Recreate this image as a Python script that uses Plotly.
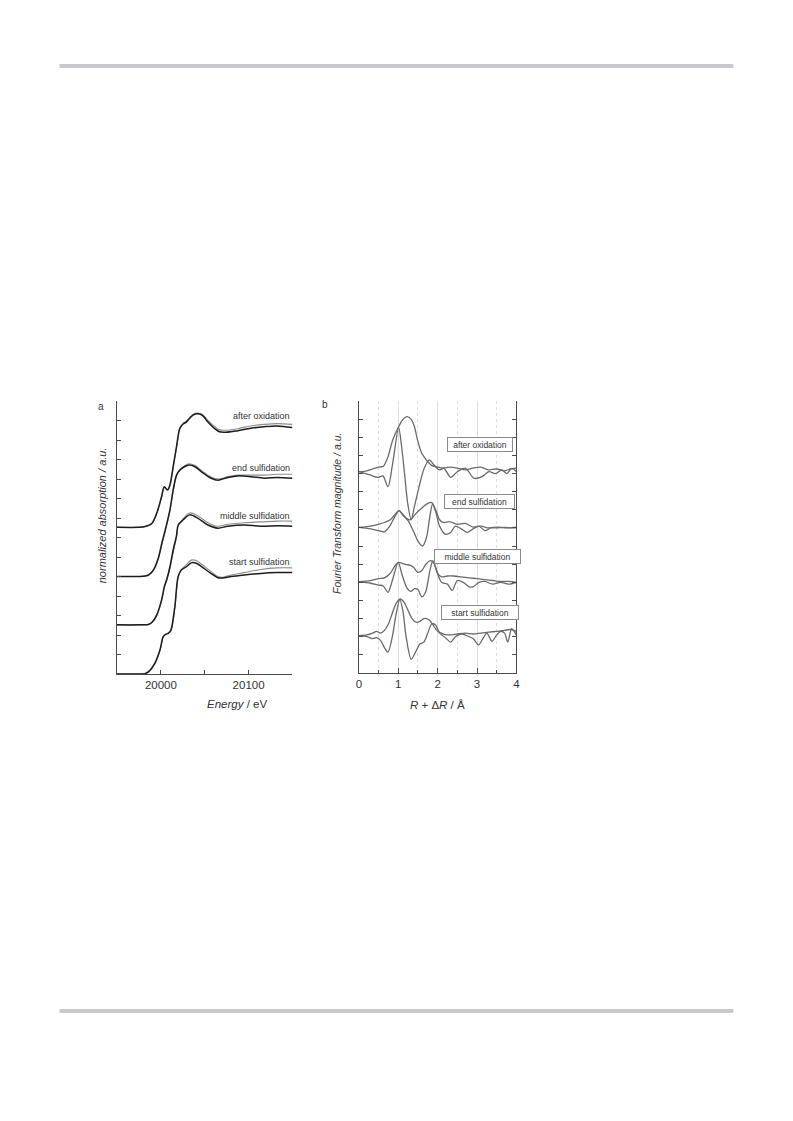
import plotly.graph_objects as go

# ---------------- Panel a: XANES (energy in eV, normalized absorption, offset) ----------------
start_E = [19950, 19970, 19982, 19986, 19993, 19999, 20002.7, 20005.8, 20008.4, 20011.4, 20015.9, 20019.7,
           20023.5, 20029, 20034.7, 20040.4, 20046, 20057, 20065, 20070.5, 20080, 20095, 20114, 20133, 20150]
start_dark = [0, 0, 0.01, 0.06, 0.27, 0.62, 0.96, 1.02, 1.04, 1.13, 1.73, 2.50,
              2.67, 2.75, 2.85, 2.84, 2.76, 2.58, 2.47, 2.46, 2.50, 2.54, 2.58, 2.60, 2.60]
start_gray = [0, 0, 0.01, 0.05, 0.25, 0.60, 0.95, 1.02, 1.05, 1.10, 1.68, 2.48,
              2.68, 2.80, 2.92, 2.91, 2.82, 2.63, 2.50, 2.48, 2.54, 2.60, 2.68, 2.72, 2.72]

middle_E = [19950, 19975, 19985.8, 19989.6, 19995.2, 20000.8, 20003.9, 20006.5, 20010.3, 20014, 20017.8,
            20019.7, 20025.3, 20032.9, 20042.3, 20053.6, 20065, 20076.3, 20095, 20114, 20133, 20150]
middle_dark = [1.26, 1.26, 1.27, 1.32, 1.51, 1.90, 2.24, 2.41, 2.75, 3.18, 3.55,
               3.82, 3.95, 4.08, 3.99, 3.82, 3.74, 3.79, 3.82, 3.79, 3.80, 3.79]
middle_gray = [1.26, 1.26, 1.27, 1.31, 1.49, 1.87, 2.20, 2.38, 2.70, 3.12, 3.50,
               3.80, 3.98, 4.13, 4.05, 3.88, 3.79, 3.84, 3.88, 3.90, 3.92, 3.92]

end_E = [19950, 19975, 19982, 19986, 19991.5, 19997, 20001, 20005, 20010.3, 20014, 20017.8, 20021.6,
         20027.2, 20032.1, 20038.5, 20046, 20057.4, 20065, 20076.3, 20087.6, 20102.7, 20117.8, 20132.7, 20150]
end_dark = [2.50, 2.50, 2.51, 2.54, 2.67, 2.97, 3.35, 3.70, 4.21, 4.72, 5.10, 5.23,
            5.32, 5.36, 5.32, 5.19, 5.02, 4.97, 5.04, 5.08, 5.06, 5.02, 5.04, 5.02]
end_gray = [2.50, 2.50, 2.51, 2.53, 2.65, 2.94, 3.30, 3.66, 4.17, 4.68, 5.07, 5.22,
            5.34, 5.39, 5.35, 5.22, 5.05, 5.00, 5.06, 5.10, 5.10, 5.10, 5.12, 5.12]

oxid_E = [19950, 19975, 19982, 19989.6, 19995.2, 20000.8, 20003.9, 20007.7, 20010.3, 20014, 20017.8,
          20021.6, 20025.3, 20029, 20032.9, 20036.7, 20042.3, 20048, 20053.6, 20061, 20066.8, 20074.3,
          20087.6, 20102.7, 20117.8, 20132.7, 20150]
oxid_dark = [3.76, 3.76, 3.78, 3.86, 4.12, 4.55, 4.80, 4.72, 4.85, 5.32, 5.83,
             6.30, 6.41, 6.46, 6.56, 6.64, 6.67, 6.62, 6.46, 6.30, 6.21, 6.20,
             6.24, 6.30, 6.34, 6.36, 6.32]
oxid_gray = [3.76, 3.76, 3.78, 3.85, 4.10, 4.52, 4.78, 4.72, 4.83, 5.28, 5.80,
             6.28, 6.42, 6.48, 6.58, 6.66, 6.69, 6.64, 6.50, 6.35, 6.26, 6.25,
             6.29, 6.36, 6.40, 6.42, 6.40]

labels_a = ["after oxidation", "end sulfidation", "middle sulfidation", "start sulfidation"]
labels_a_y = [6.62, 5.29, 4.05, 2.86]

# ---------------- Panel b: Fourier transforms (R in Angstrom, offset) ----------------
ox_mag_R = [0, 0.2, 0.35, 0.5, 0.62, 0.74, 0.86, 0.99, 1.11, 1.22, 1.33, 1.41, 1.49, 1.58, 1.66, 1.75,
            1.85, 2.0, 2.15, 2.3, 2.5, 2.7, 2.9, 3.1, 3.3, 3.5, 3.7, 3.85, 4.0]
ox_mag = [11.1, 11.15, 11.25, 11.35, 11.4, 11.93, 12.85, 13.5, 13.95, 14.14, 13.99, 13.59, 12.85, 12.2,
          11.9, 11.65, 11.45, 11.35, 11.3, 11.35, 11.3, 11.2, 11.3, 11.35, 11.2, 11.25, 11.15, 11.25, 11.3]
ox_im_R = [0, 0.28, 0.49, 0.61, 0.74, 0.86, 1.01, 1.08, 1.16, 1.24, 1.33, 1.41, 1.53, 1.66, 1.79, 1.91,
           2.04, 2.16, 2.33, 2.5, 2.71, 2.92, 3.13, 3.3, 3.47, 3.63, 3.76, 3.88, 4.0]
ox_im = [11.1, 10.92, 10.79, 10.87, 10.28, 11.57, 13.55, 12.6, 11.01, 9.36, 8.44, 9.17, 10.28, 11.29,
         11.75, 11.47, 11.2, 11.29, 10.79, 11.1, 11.29, 10.74, 10.83, 11.1, 11.0, 11.2, 11.0, 11.28, 11.1]

end_mag_R = [0, 0.3, 0.5, 0.65, 0.8, 0.92, 1.02, 1.12, 1.2, 1.3, 1.45, 1.6, 1.75, 1.85, 1.95, 2.05,
             2.15, 2.3, 2.5, 2.7, 2.9, 3.1, 3.3, 3.5, 3.7, 4.0]
end_mag = [8.03, 8.1, 8.2, 8.3, 8.45, 8.75, 8.95, 8.75, 8.55, 8.45, 8.8, 9.1, 9.35, 9.4, 9.0, 8.45,
           8.3, 8.35, 8.2, 8.25, 8.05, 8.1, 8.0, 8.05, 8.0, 8.05]
end_im_R = [0, 0.3, 0.5, 0.65, 0.8, 0.92, 1.02, 1.12, 1.25, 1.4, 1.52, 1.62, 1.72, 1.8, 1.87, 1.95,
            2.05, 2.2, 2.33, 2.45, 2.6, 2.75, 2.9, 3.05, 3.2, 3.35, 3.5, 3.7, 3.85, 4.0]
end_im = [8.03, 7.95, 7.85, 7.78, 8.15, 8.65, 8.95, 8.7, 8.4, 7.75, 7.2, 7.0, 7.5, 8.6, 9.3, 8.9,
          8.1, 7.65, 7.75, 8.1, 7.95, 7.75, 7.95, 8.1, 7.85, 8.0, 8.0, 8.03, 8.0, 8.0]

mid_mag_R = [0, 0.3, 0.5, 0.65, 0.8, 0.9, 1.0, 1.1, 1.2, 1.3, 1.4, 1.5, 1.6, 1.7, 1.82, 1.92, 2.0,
             2.1, 2.25, 2.4, 2.6, 2.8, 3.0, 3.2, 3.4, 3.6, 3.8, 4.0]
mid_mag = [5.04, 5.1, 5.2, 5.25, 5.5, 5.85, 6.1, 6.05, 5.98, 5.95, 5.8, 5.55, 5.65, 6.0, 6.2, 6.0, 5.5,
           5.3, 5.35, 5.35, 5.3, 5.25, 5.2, 5.15, 5.1, 5.05, 5.05, 5.0]
mid_im_R = [0, 0.3, 0.5, 0.62, 0.74, 0.85, 1.0, 1.1, 1.22, 1.32, 1.42, 1.5, 1.6, 1.7, 1.8, 1.88, 1.98,
            2.1, 2.25, 2.37, 2.5, 2.65, 2.8, 2.9, 3.05, 3.2, 3.4, 3.6, 3.8, 4.0]
mid_im = [5.04, 4.95, 4.85, 4.8, 4.45, 5.1, 6.1, 5.4, 4.7, 4.5, 4.65, 4.6, 4.2, 4.5, 5.6, 6.2, 5.6,
          5.0, 4.9, 4.55, 5.1, 5.0, 4.75, 4.75, 5.0, 5.05, 4.9, 5.0, 4.9, 5.0]

st_mag_R = [0, 0.2, 0.35, 0.45, 0.55, 0.65, 0.75, 0.85, 0.95, 1.05, 1.15, 1.25, 1.35, 1.45, 1.55,
            1.65, 1.72, 1.8, 1.9, 2.0, 2.15, 2.3, 2.5, 2.7, 2.9, 3.1, 3.3, 3.5, 3.7, 3.85, 4.0]
st_mag = [2.06, 2.1, 2.2, 2.3, 2.2, 2.35, 2.7, 3.3, 3.85, 4.08, 3.9, 3.45, 3.0, 2.8, 2.85,
          3.0, 3.0, 2.9, 2.6, 2.3, 2.15, 2.1, 2.15, 2.2, 2.15, 2.2, 2.25, 2.3, 2.35, 2.4, 2.3]
st_im_R = [0, 0.2, 0.35, 0.45, 0.55, 0.65, 0.74, 0.85, 0.95, 1.04, 1.12, 1.2, 1.33, 1.45, 1.55, 1.65,
           1.75, 1.85, 1.95, 2.05, 2.2, 2.33, 2.45, 2.6, 2.75, 2.9, 3.04, 3.15, 3.25, 3.38, 3.5, 3.6,
           3.7, 3.78, 3.88, 4.0]
st_im = [2.06, 2.0, 1.9, 1.95, 1.8, 1.4, 1.15, 2.0, 3.3, 4.05, 3.4, 2.0, 0.75, 1.2, 1.6, 1.7,
         2.2, 2.7, 2.65, 2.2, 1.95, 1.7, 2.0, 2.15, 2.05, 1.9, 1.55, 1.9, 2.2, 1.75, 2.1, 2.3,
         2.2, 1.7, 2.45, 2.1]

labels_b = ["after oxidation", "end sulfidation", "middle sulfidation", "start sulfidation"]

# ---------------- figure ----------------
# the page body has an 8 px margin, so the figure is drawn 16 px smaller and shifted by 8 px
OFF = 8
W, H = 793 - 2 * OFF, 1121 - 2 * OFF
FONT = "Liberation Sans, Arial, Helvetica, sans-serif"
DARK = "#1c1c1c"
GRAY = "#8c8c8c"
FT = "#6a6a6a"
AX = "#4a4a4a"


def px(x):
    return (x - OFF) / W


def py(y):
    return 1 - (y - OFF) / H


fig = go.Figure()

for E, g, d in [(start_E, start_gray, start_dark), (middle_E, middle_gray, middle_dark),
                (end_E, end_gray, end_dark), (oxid_E, oxid_gray, oxid_dark)]:
    fig.add_trace(go.Scatter(x=E, y=g, mode="lines", xaxis="x", yaxis="y",
                             line=dict(color=GRAY, width=1.1, shape="spline", smoothing=0.9),
                             showlegend=False, hoverinfo="skip"))
    fig.add_trace(go.Scatter(x=E, y=d, mode="lines", xaxis="x", yaxis="y",
                             line=dict(color=DARK, width=1.5, shape="spline", smoothing=0.9),
                             showlegend=False, hoverinfo="skip"))

for R, v in [(ox_mag_R, ox_mag), (ox_im_R, ox_im), (end_mag_R, end_mag), (end_im_R, end_im),
             (mid_mag_R, mid_mag), (mid_im_R, mid_im), (st_mag_R, st_mag), (st_im_R, st_im)]:
    fig.add_trace(go.Scatter(x=R, y=v, mode="lines", xaxis="x2", yaxis="y2",
                             line=dict(color=FT, width=1.3, shape="spline", smoothing=0.8),
                             showlegend=False, hoverinfo="skip"))

tickfont = dict(family=FONT, size=11.5, color="#333333")

fig.update_layout(
    width=W, height=H,
    margin=dict(l=0, r=0, t=0, b=0),
    paper_bgcolor="white", plot_bgcolor="rgba(0,0,0,0)",
    showlegend=False,
    xaxis=dict(domain=[px(115), px(292)], anchor="y", range=[19950, 20150],
               tickvals=[19950, 20000, 20050, 20100, 20150],
               ticktext=["", "20000", "", "20100", ""],
               ticks="inside", ticklen=4, tickcolor=AX, showline=True, linecolor=AX, linewidth=1.2,
               showgrid=False, zeroline=False, tickfont=tickfont),
    yaxis=dict(domain=[py(674), py(401)], anchor="x", range=[0, 7], dtick=0.5,
               ticks="inside", ticklen=4, tickcolor=AX, showline=True, linecolor=AX, linewidth=1.2,
               showticklabels=False, showgrid=False, zeroline=False),
    yaxis3=dict(overlaying="y", anchor="x", side="right", range=[0, 273 / 24.4], dtick=1,
                ticks="inside", ticklen=4, tickcolor=AX, showline=True, linecolor=AX, linewidth=1.2,
                showticklabels=False, showgrid=False, zeroline=False),
    xaxis2=dict(domain=[px(359), px(518)], anchor="y2", range=[0, 4], dtick=1,
                ticks="inside", ticklen=5, tickcolor=AX, showline=True, linecolor=AX, linewidth=1.2,
                showgrid=True, gridcolor="#e0e0e0", gridwidth=1, zeroline=False, tickfont=tickfont,
                minor=dict(dtick=0.5, ticks="inside", ticklen=3, tickcolor=AX,
                           showgrid=True, gridcolor="#dedede", griddash="dot", gridwidth=1)),
    yaxis2=dict(domain=[py(673), py(401)], anchor="x2", range=[0, 15], dtick=1,
                ticks="inside", ticklen=4, tickcolor=AX, showline=True, linecolor=AX, linewidth=1.2,
                mirror="ticks", showticklabels=False, showgrid=False, zeroline=False),
)

# page rules
fig.add_shape(type="rect", xref="paper", yref="paper", x0=px(57), x1=px(737), y0=py(68), y1=py(64),
              fillcolor="#c9c9cd", line=dict(width=0), layer="below")
fig.add_shape(type="rect", xref="paper", yref="paper", x0=px(57), x1=px(737), y0=py(1013), y1=py(1009),
              fillcolor="#c9c9cd", line=dict(width=0), layer="below")

ann = []
# panel a curve labels
for t, yv in zip(labels_a, labels_a_y):
    ann.append(dict(x=20149, y=yv, xref="x", yref="y", text=t, showarrow=False, xanchor="right",
                    yanchor="middle", font=dict(family=FONT, size=9, color="#333333")))

# panel b boxed labels (centre x, centre y, width in px)
box_pos = [(481.5, 444.5, 61), (481, 501.7, 66), (478.7, 556.3, 82), (481.7, 612.8, 73)]
for t, (cx, cy, w) in zip(labels_b, box_pos):
    ann.append(dict(x=px(cx), y=py(cy), xref="paper", yref="paper", text=t, showarrow=False,
                    xanchor="center", yanchor="middle", width=w, height=10, borderpad=1.5,
                    bordercolor="#8a8a8a", borderwidth=1, bgcolor="white",
                    font=dict(family=FONT, size=8.5, color="#333333")))

# panel letters
ann.append(dict(x=px(94), y=py(406), xref="paper", yref="paper", text="a", showarrow=False,
                font=dict(family=FONT, size=10, color="#333333")))
ann.append(dict(x=px(325), y=py(404), xref="paper", yref="paper", text="b", showarrow=False,
                font=dict(family=FONT, size=10, color="#333333")))

# axis titles
ann.append(dict(x=px(92), y=py(515), xref="paper", yref="paper", text="<i>normalized absorption / a.u.</i>",
                showarrow=False, textangle=-90, font=dict(family=FONT, size=11, color="#333333")))
ann.append(dict(x=px(337), y=py(514), xref="paper", yref="paper",
                text="<i>Fourier Transform magnitude / a.u.</i>",
                showarrow=False, textangle=-90, font=dict(family=FONT, size=10.5, color="#333333")))
ann.append(dict(x=px(203.5), y=py(704), xref="paper", yref="paper", text="<i>Energy</i> / eV",
                showarrow=False, font=dict(family=FONT, size=11.5, color="#333333")))
ann.append(dict(x=px(438.5), y=py(705), xref="paper", yref="paper", text="<i>R</i> + Δ<i>R</i> / Å",
                showarrow=False, font=dict(family=FONT, size=11.5, color="#333333")))

fig.update_layout(annotations=ann)

fig.write_html("out.html")
